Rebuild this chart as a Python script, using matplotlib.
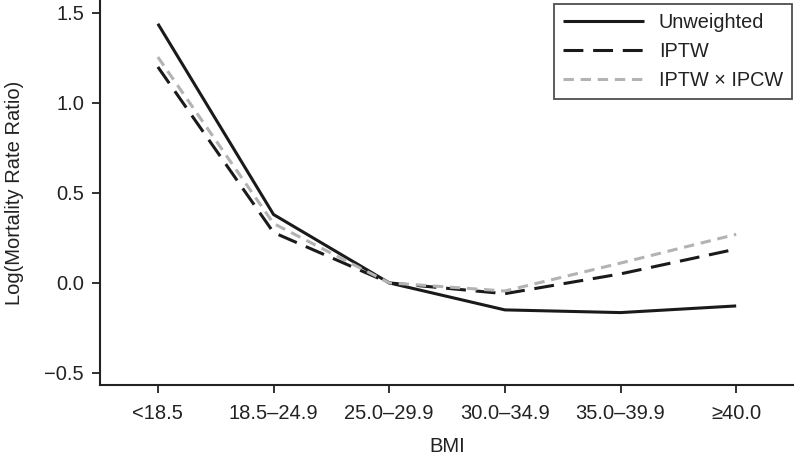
import matplotlib
matplotlib.use("Agg")
import matplotlib.pyplot as plt

plt.rcParams["font.family"] = ["Liberation Sans", "DejaVu Sans"]

bmi = ["<18.5", "18.5–24.9", "25.0–29.9", "30.0–34.9", "35.0–39.9", "≥40.0"]
unweighted = [1.44, 0.38, 0.0, -0.15, -0.165, -0.128]
iptw = [1.20, 0.28, 0.0, -0.06, 0.05, 0.188]
iptw_ipcw = [1.255, 0.33, 0.0, -0.045, 0.11, 0.27]

fig = plt.figure(figsize=(7.94, 4.55), dpi=100)
ax = fig.add_axes([0.126, 0.154, 0.874, 0.846])

x = range(len(bmi))
ax.plot(x, unweighted, color="#1a1a1a", lw=2.2, solid_capstyle="butt", label="Unweighted")
ax.plot(x, iptw, color="#1a1a1a", lw=2.2, dashes=(6.5, 3.2), label="IPTW")
ax.plot(x, iptw_ipcw, color="#b3b3b3", lw=2.2, dashes=(3.4, 2.2), label="IPTW × IPCW")

ax.set_xlim(-0.5, 5.5)
ax.set_ylim(-0.567, 1.572)
ax.set_xticks(list(x))
ax.set_xticklabels(bmi)
ax.set_yticks([-0.5, 0.0, 0.5, 1.0, 1.5])
ax.set_yticklabels(["−0.5", "0.0", "0.5", "1.0", "1.5"])

for side in ["top", "right"]:
    ax.spines[side].set_visible(False)
for side in ["left", "bottom"]:
    ax.spines[side].set_linewidth(1.5)
    ax.spines[side].set_color("#222222")
ax.tick_params(direction="out", length=5.5, width=1.3, color="#222222",
               labelsize=14.5, labelcolor="#222222")
ax.tick_params(axis="y", pad=6)
ax.tick_params(axis="x", pad=8)

ax.set_xlabel("BMI", fontsize=14.5, color="#222222", labelpad=10)
ax.set_ylabel("Log(Mortality Rate Ratio)", fontsize=14.5, color="#222222", labelpad=15)

leg = ax.legend(loc="upper right", bbox_to_anchor=(0.997, 0.99), fontsize=14.3,
                frameon=True, fancybox=False, handlelength=4.1, handletextpad=0.75,
                borderpad=0.45, labelspacing=0.5, borderaxespad=0)
leg.get_frame().set_edgecolor("#222222")
leg.get_frame().set_linewidth(1.3)
for t in leg.get_texts():
    t.set_color("#222222")

fig.savefig("out.png", dpi=100)
